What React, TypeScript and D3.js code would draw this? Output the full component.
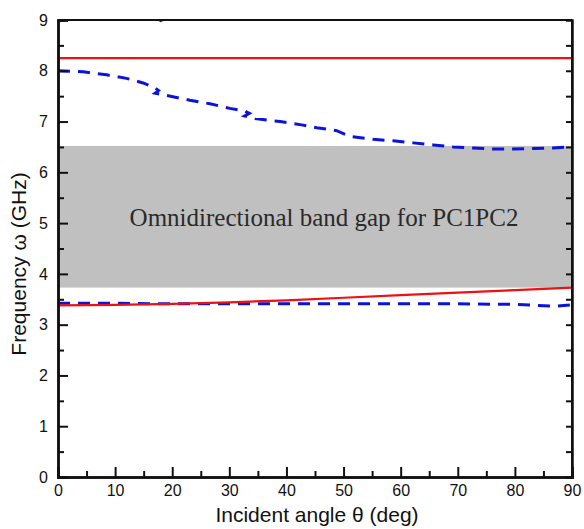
import React, { useEffect, useRef } from 'react';
import * as d3 from 'd3';

// upper blue dashed band edge (hooks near 17 and 33 deg are in the source curve)
const angleUpper = [0, 4.4, 8.5, 12, 14.9, 16.9, 17.6, 17.0, 18.7, 23.1, 26.6, 30.1, 32.6, 33.5, 32.7, 34.5, 38.9, 42.9, 45.3, 48.8, 51.1, 55.2, 58.7, 62.2, 65.7, 69.2, 72.7, 76.2, 79.7, 83.2, 86.7, 90];
const freqUpper = [8.0, 7.98, 7.92, 7.85, 7.76, 7.67, 7.61, 7.56, 7.52, 7.42, 7.35, 7.26, 7.21, 7.16, 7.11, 7.06, 7.0, 6.93, 6.88, 6.82, 6.71, 6.65, 6.62, 6.58, 6.54, 6.5, 6.48, 6.46, 6.46, 6.47, 6.48, 6.5];

// bit of a higher branch that just touches the top frame
const angleTop = [16.8, 18.0, 19.2];
const freqTop = [9.06, 8.99, 9.06];

// lower blue dashed edge
const angleLower = [0, 10, 20, 30, 40, 50, 60, 70, 80, 84, 87, 90];
const freqLower = [3.42, 3.42, 3.41, 3.41, 3.41, 3.41, 3.41, 3.41, 3.4, 3.38, 3.36, 3.39];

// red solid edges
const angleRed = [0, 10, 20, 30, 40, 50, 60, 70, 80, 90];
const freqRedLow = [3.38, 3.39, 3.41, 3.44, 3.48, 3.53, 3.58, 3.63, 3.68, 3.73];
const freqRedHigh = [8.25, 8.25, 8.25, 8.25, 8.25, 8.25, 8.25, 8.25, 8.25, 8.25];

// omnidirectional gap
const gapLow = 3.73;
const gapHigh = 6.52;
const gapLabel = 'Omnidirectional band gap for PC1PC2';

const xTicks = [0, 10, 20, 30, 40, 50, 60, 70, 80, 90];
const yTicks = [0, 1, 2, 3, 4, 5, 6, 7, 8, 9];

const width = 584;
const height = 529;
const margin = { top: 20, right: 12, bottom: 52, left: 58 };

const sans = '"Liberation Sans", Arial, sans-serif';
const serif = '"Liberation Serif", "Times New Roman", serif';

export default function App() {
  const svgRef = useRef<SVGSVGElement>(null);

  useEffect(() => {
    const svg = d3.select(svgRef.current);
    svg.selectAll('*').remove();

    const x = d3.scaleLinear().domain([0, 90]).range([margin.left, width - margin.right]);
    const y = d3.scaleLinear().domain([0, 9]).range([height - margin.bottom, margin.top]);
    const [x0, x1] = x.range();
    const [y0, y1] = y.range();

    svg.append('clipPath').attr('id', 'plot-clip')
      .append('rect')
      .attr('x', x0).attr('y', y1)
      .attr('width', x1 - x0).attr('height', y0 - y1);

    // gray band
    svg.append('rect')
      .attr('x', x(0)).attr('y', y(gapHigh))
      .attr('width', x(90) - x(0)).attr('height', y(gapLow) - y(gapHigh))
      .attr('fill', '#c0c0c0');

    svg.append('text')
      .attr('x', x(45) + 9).attr('y', y(5) + 3)
      .attr('text-anchor', 'middle')
      .style('font-family', serif)
      .style('font-size', '25px')
      .attr('fill', '#2a2a2a')
      .text(gapLabel);

    const line = d3.line<[number, number]>().x(d => x(d[0])).y(d => y(d[1]));
    const plot = svg.append('g').attr('clip-path', 'url(#plot-clip)');

    const addLine = (ax: number[], fy: number[], color: string, w: number, dash?: string) => {
      const p = plot.append('path')
        .datum(ax.map((a, i) => [a, fy[i]] as [number, number]))
        .attr('d', line)
        .attr('fill', 'none')
        .attr('stroke', color)
        .attr('stroke-width', w);
      if (dash) p.attr('stroke-dasharray', dash);
    };

    addLine(angleRed, freqRedHigh, '#ee1111', 2.2);
    addLine(angleLower, freqLower, '#0a14d8', 3, '12,8');
    addLine(angleRed, freqRedLow, '#ee1111', 2.2);
    addLine(angleUpper, freqUpper, '#0a14d8', 3, '12,8');
    addLine(angleTop, freqTop, '#0a14d8', 3, '12,8');

    // frame
    const frame = svg.append('g').attr('stroke', '#111').attr('fill', 'none');
    frame.append('line').attr('x1', x0).attr('x2', x1).attr('y1', y1).attr('y2', y1).attr('stroke-width', 2);
    frame.append('line').attr('x1', x1).attr('x2', x1).attr('y1', y1).attr('y2', y0).attr('stroke-width', 2);

    // bottom axis, inward ticks
    const xAxis = svg.append('g').attr('transform', `translate(0,${y0})`)
      .call(d3.axisBottom(x).tickValues(xTicks).tickSize(-10).tickPadding(8).tickFormat(d3.format('d')));
    xAxis.append('g').call(d3.axisBottom(x).tickValues(d3.range(5, 90, 10)).tickSize(-6).tickFormat(() => ''));

    // left axis
    const yAxis = svg.append('g').attr('transform', `translate(${x0},0)`)
      .call(d3.axisLeft(y).tickValues(yTicks).tickSize(-10).tickPadding(10).tickFormat(d3.format('d')));
    yAxis.append('g').call(d3.axisLeft(y).tickValues(d3.range(0.5, 9, 1)).tickSize(-6).tickFormat(() => ''));

    // right axis, short ticks only
    svg.append('g').attr('transform', `translate(${x1},0)`)
      .call(d3.axisRight(y).tickValues(d3.range(0.5, 9, 0.5)).tickSize(-6).tickFormat(() => ''));

    svg.selectAll('.domain').attr('stroke', '#111').attr('stroke-width', 2.5);
    svg.selectAll('.tick line').attr('stroke', '#111').attr('stroke-width', 2);
    svg.selectAll('.tick text')
      .style('font-family', sans)
      .style('font-size', '16px')
      .attr('fill', '#111');

    svg.append('text')
      .attr('x', (x0 + x1) / 2 + 2).attr('y', height - 7)
      .attr('text-anchor', 'middle')
      .style('font-family', sans)
      .style('font-size', '21px')
      .attr('fill', '#111')
      .text('Incident angle θ (deg)');

    svg.append('text')
      .attr('transform', `translate(26,${264}) rotate(-90)`)
      .attr('text-anchor', 'middle')
      .style('font-family', sans)
      .style('font-size', '21px')
      .attr('fill', '#111')
      .text('Frequency  ω (GHz)');
  }, []);

  return (
    <div style={{ position: 'absolute', left: 0, top: 0 }}>
      <svg width={width} height={height} ref={svgRef} style={{ display: 'block', background: '#fff' }}></svg>
    </div>
  );
}
